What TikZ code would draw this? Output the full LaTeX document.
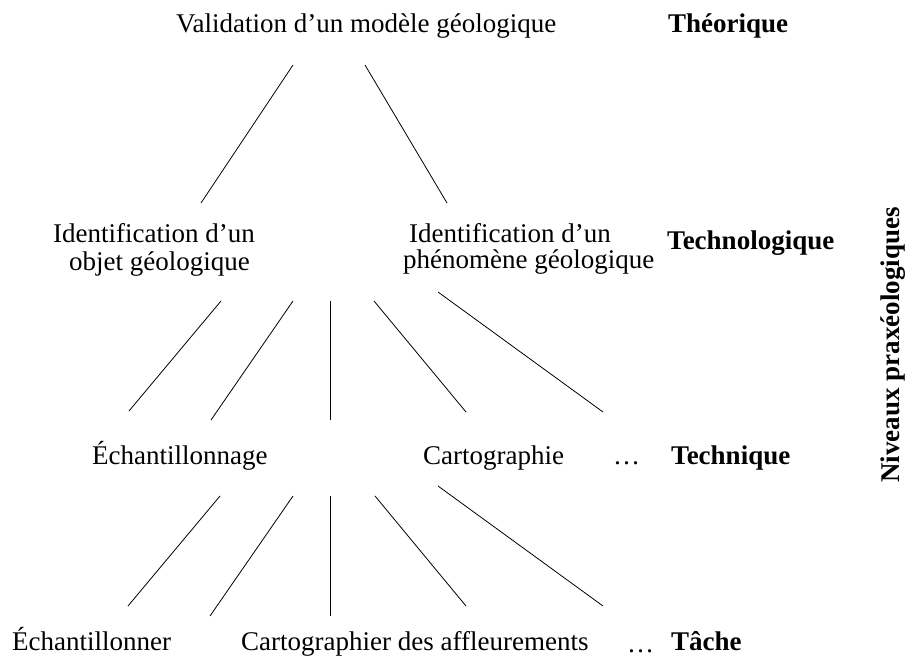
\documentclass[tikz,border=0pt]{standalone}
\usepackage{fontspec}
\setmainfont{Liberation Serif}
\begin{document}
\begin{tikzpicture}[x=1pt,y=-1pt,
  lbl/.style={inner sep=0pt, anchor=base west, font=\fontsize{27}{32}\selectfont},
  lvl/.style={lbl, font=\fontsize{27}{32}\selectfont\bfseries},
  link/.style={line width=0.8pt, black}]
\useasboundingbox[fill=white] (0,0) rectangle (907,660);
% texts
\node[lbl] (val) at (176,33) {Validation d’un modèle géologique};
\node[lvl] (theo) at (668,33) {Théorique};
\node[lbl] (ido1) at (53,243) {Identification d’un};
\node[lbl] (ido2) at (69,271) {objet géologique};
\node[lbl] (idp1) at (409,243) {Identification d’un};
\node[lbl] (idp2) at (403,269) {phénomène géologique};
\node[lvl] (techno) at (667,250) {Technologique};
\node[lbl] (ech) at (92,464) {Échantillonnage};
\node[lbl] (carto) at (423,464) {Cartographie};
\node[lbl] (dots1) at (613,464) {…};
\node[lvl] (tech) at (671,464) {Technique};
\node[lbl] (echr) at (12,650) {Échantillonner};
\node[lbl] (cartr) at (241,650) {Cartographier des affleurements};
\node[lbl] (dots2) at (627,652) {…};
\node[lvl] (tache) at (671,650) {Tâche};
\node[inner sep=0pt, rotate=90, font=\fontsize{27}{32}\selectfont\bfseries] (niv) at (893,345) {Niveaux praxéologiques};
% connector end points
\coordinate (a1) at (293,65);  \coordinate (a2) at (201,203);
\coordinate (b1) at (365,65);  \coordinate (b2) at (447,203);
\coordinate (c1) at (221,301); \coordinate (c2) at (129,411);
\coordinate (d1) at (293,301); \coordinate (d2) at (211,420);
\coordinate (e1) at (330,301); \coordinate (e2) at (330,420);
\coordinate (f1) at (374,301); \coordinate (f2) at (466,412);
\coordinate (g1) at (438,292); \coordinate (g2) at (603,412);
\coordinate (h1) at (220,496); \coordinate (h2) at (128,606);
\coordinate (i1) at (293,496); \coordinate (i2) at (210,616);
\coordinate (j1) at (330,496); \coordinate (j2) at (330,616);
\coordinate (k1) at (375,496); \coordinate (k2) at (466,606);
\coordinate (l1) at (438,486); \coordinate (l2) at (603,606);
\foreach \p in {a,b,c,d,e,f,g,h,i,j,k,l}{\draw[link] (\p1) -- (\p2);}
\end{tikzpicture}
\end{document}
